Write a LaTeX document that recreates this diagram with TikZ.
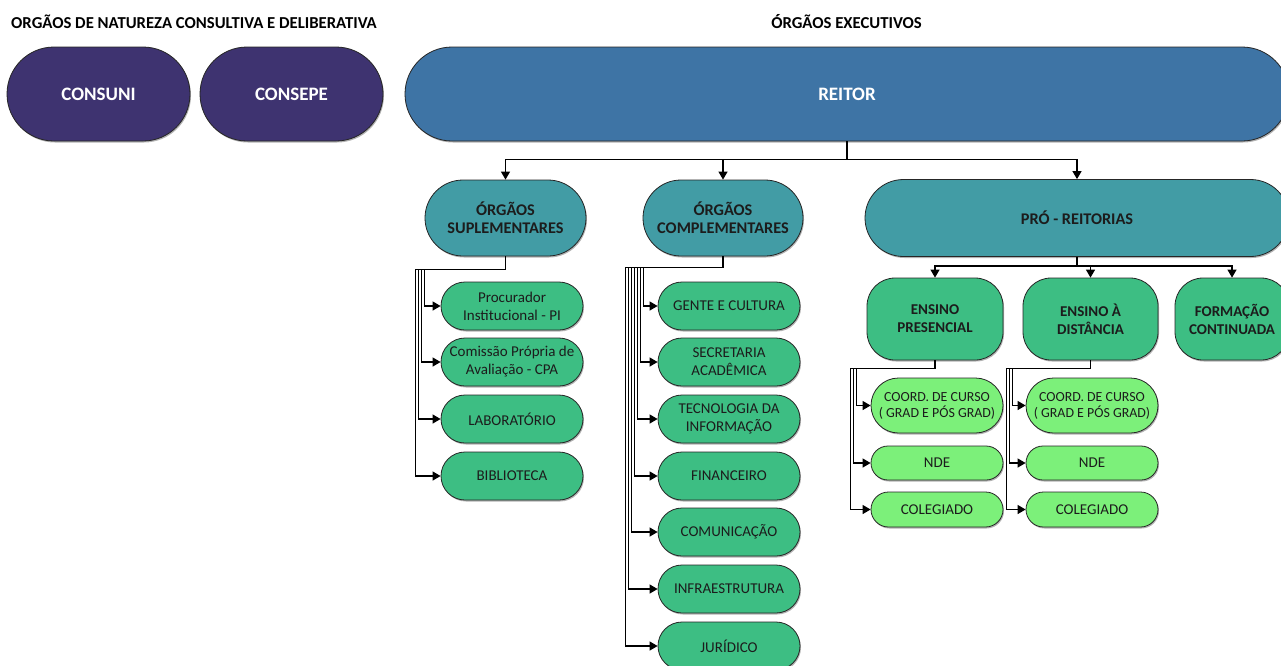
\documentclass[tikz,border=0pt]{standalone}
\usepackage{fontspec}
\setmainfont{Carlito}
\usetikzlibrary{shapes.misc,arrows.meta,shadows}
\definecolor{cpurple}{HTML}{3E3370}
\definecolor{cblue}{HTML}{3E74A5}
\definecolor{cteal}{HTML}{429CA5}
\definecolor{cgreen}{HTML}{3DBE83}
\definecolor{clight}{HTML}{7CF07A}
\definecolor{ctext}{HTML}{1C1C1C}
\tikzset{
  base/.style={draw=black!85, line width=0.8pt, inner sep=0pt, align=center,
    drop shadow={shadow xshift=1pt, shadow yshift=-1.5pt, opacity=0.3, fill=black}},
  stad/.style={base, rounded rectangle},
  council/.style={stad, fill=cpurple, text=white, font=\fontsize{19}{22}\selectfont\bfseries,
    minimum width=183pt, minimum height=94pt},
  unit/.style={stad, fill=cteal, text=ctext, font=\fontsize{16.3}{18}\selectfont\bfseries,
    minimum height=76pt},
  leaf/.style={stad, fill=cgreen, text=ctext, font=\fontsize{15}{18}\selectfont,
    minimum width=142pt, minimum height=48pt},
  ensino/.style={base, rectangle, rounded corners=28pt, fill=cgreen, text=ctext,
    font=\fontsize{15}{18}\selectfont\bfseries, minimum height=82pt},
  sub/.style={stad, fill=clight, text=ctext, font=\fontsize{15}{18}\selectfont,
    minimum width=132pt},
  hdr/.style={font=\fontsize{16.7}{19}\selectfont\bfseries, text=black, inner sep=0pt},
  arr/.style={line width=1.2pt, draw=black, -{Triangle[length=8pt,width=9pt]}}
}
\begin{document}
\begin{tikzpicture}[x=1pt,y=-1pt]
\useasboundingbox (0,0) rectangle (1281,665);
\clip (0,0) rectangle (1281,665);
\fill[white] (0,0) rectangle (1281,665);

% headers
\node[hdr, anchor=west] (h1) at (11,22) {ORGÃOS DE NATUREZA CONSULTIVA E DELIBERATIVA};
\node[hdr] (h2) at (846.5,22) {ÓRGÃOS EXECUTIVOS};

% top row
\node[council] (consuni) at (98.5,94) {CONSUNI};
\node[council] (consepe) at (291.5,94) {CONSEPE};
\node[council, fill=cblue, minimum width=884pt] (reitor) at (847,94) {REITOR};

% second row
\node[unit, minimum width=161pt] (sup) at (505.5,218) {ÓRGÃOS\\SUPLEMENTARES};
\node[unit, minimum width=160pt] (comp) at (723,218) {ÓRGÃOS\\COMPLEMENTARES};
\node[unit, minimum width=424pt, minimum height=77pt] (pro) at (1077,218) {PRÓ - REITORIAS};

% suplementares children
\node[leaf] (pi) at (512,306) {Procurador\\Institucional - PI};
\node[leaf] (cpa) at (512,362) {Comissão Própria de\\Avaliação - CPA};
\node[leaf] (lab) at (512,419) {LABORATÓRIO};
\node[leaf] (bib) at (512,476) {BIBLIOTECA};

% complementares children
\node[leaf] (gente) at (729,306) {GENTE E CULTURA};
\node[leaf] (sec) at (729,362) {SECRETARIA\\ACADÊMICA};
\node[leaf] (ti) at (729,419) {TECNOLOGIA DA\\INFORMAÇÃO};
\node[leaf] (fin) at (729,476) {FINANCEIRO};
\node[leaf] (com) at (729,532) {COMUNICAÇÃO};
\node[leaf] (infra) at (729,589) {INFRAESTRUTURA};
\node[leaf] (jur) at (729,646) {JURÍDICO};

% pro-reitorias children
\node[ensino, minimum width=136pt] (pres) at (935,319) {ENSINO\\PRESENCIAL};
\node[ensino, minimum width=135pt] (dist) at (1090.5,319) {ENSINO À\\DISTÂNCIA};
\node[ensino, minimum width=114pt] (form) at (1232,319) {FORMAÇÃO\\CONTINUADA};

% ensino children
\node[sub, minimum height=55pt, font=\fontsize{13.9}{16}\selectfont] (coord1) at (937,405.5) {COORD. DE CURSO\\( GRAD E PÓS GRAD)};
\node[sub, minimum height=34pt] (nde1) at (937,463) {NDE};
\node[sub, minimum height=35pt] (col1) at (937,509.5) {COLEGIADO};
\node[sub, minimum height=55pt, font=\fontsize{13.9}{16}\selectfont] (coord2) at (1092,405.5) {COORD. DE CURSO\\( GRAD E PÓS GRAD)};
\node[sub, minimum height=34pt] (nde2) at (1092,463) {NDE};
\node[sub, minimum height=35pt] (col2) at (1092,509.5) {COLEGIADO};

% connectors from reitor
\foreach \t in {sup,comp,pro}
  \draw[arr] (reitor.south) -- ++(0,18) -| (\t.north);

% suplementares
\draw[arr] (sup.south) -- ++(0,13) -| ([xshift=-25pt]bib.west) -- (bib.west);
\draw[arr] (sup.south) -- ++(0,13) -| ([xshift=-22pt]lab.west) -- (lab.west);
\draw[arr] (sup.south) -- ++(0,13) -| ([xshift=-19pt]cpa.west) -- (cpa.west);
\draw[arr] (sup.south) -- ++(0,13) -| ([xshift=-16pt]pi.west) -- (pi.west);

% complementares
\draw[arr] (comp.south) -- ++(0,11) -| ([xshift=-32pt]jur.west) -- (jur.west);
\draw[arr] (comp.south) -- ++(0,11) -| ([xshift=-29pt]infra.west) -- (infra.west);
\draw[arr] (comp.south) -- ++(0,11) -| ([xshift=-26pt]com.west) -- (com.west);
\draw[arr] (comp.south) -- ++(0,11) -| ([xshift=-23pt]fin.west) -- (fin.west);
\draw[arr] (comp.south) -- ++(0,11) -| ([xshift=-20pt]ti.west) -- (ti.west);
\draw[arr] (comp.south) -- ++(0,11) -| ([xshift=-17pt]sec.west) -- (sec.west);
\draw[arr] (comp.south) -- ++(0,11) -| ([xshift=-14pt]gente.west) -- (gente.west);

% pro-reitorias
\foreach \t in {pres,dist,form}
  \draw[arr] (pro.south) -- ++(0,9) -| (\t.north);

% ensino presencial
\draw[arr] (pres.south) -- ++(0,8) -| ([xshift=-20pt]col1.west) -- (col1.west);
\draw[arr] (pres.south) -- ++(0,8) -| ([xshift=-17pt]nde1.west) -- (nde1.west);
\draw[arr] (pres.south) -- ++(0,8) -| ([xshift=-14pt]coord1.west) -- (coord1.west);

% ensino a distancia
\draw[arr] (dist.south) -- ++(0,8) -| ([xshift=-19pt]col2.west) -- (col2.west);
\draw[arr] (dist.south) -- ++(0,8) -| ([xshift=-16pt]nde2.west) -- (nde2.west);
\draw[arr] (dist.south) -- ++(0,8) -| ([xshift=-13pt]coord2.west) -- (coord2.west);
\end{tikzpicture}
\end{document}
